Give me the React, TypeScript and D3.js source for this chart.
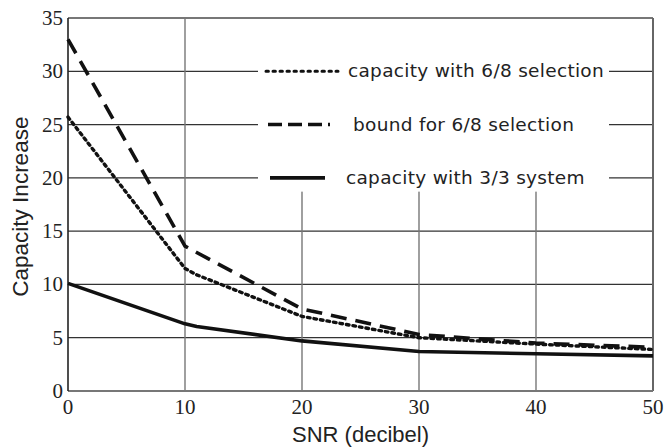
import React, { useEffect, useRef } from "react";
import * as d3 from "d3";

// SNR values (decibel)
const snr = [0, 10, 11, 20, 30, 40, 50];
// capacity with 6/8 selection (dotted)
const selCapacity = [25.7, 11.5, 10.9, 7.0, 5.0, 4.4, 3.9];
// bound for 6/8 selection (dashed)
const selBound = [33.0, 13.6, 13.0, 7.7, 5.3, 4.5, 4.1];
// capacity with 3/3 system (solid)
const sysCapacity = [10.1, 6.3, 6.05, 4.7, 3.7, 3.5, 3.3];

const xTicks = [0, 10, 20, 30, 40, 50];
const yTicks = [0, 5, 10, 15, 20, 25, 30, 35];

const legendLabels = ["capacity with 6/8 selection", "bound for 6/8 selection", "capacity with 3/3 system"];
const legendRows = [30, 25, 20];

const App = () => {
  const svgRef = useRef<SVGSVGElement>(null);

  useEffect(() => {
    const width = 664;
    const height = 448;
    const margin = { top: 18, right: 11, bottom: 57, left: 68 };

    const svg = d3.select(svgRef.current);
    svg.selectAll("*").remove();

    const x = d3.scaleLinear().domain([0, 50]).range([margin.left, width - margin.right]);
    const y = d3.scaleLinear().domain([0, 35]).range([height - margin.bottom, margin.top]);

    svg.append("rect").attr("width", width).attr("height", height).attr("fill", "#fff");

    // grid
    svg
      .append("g")
      .selectAll("line")
      .data(yTicks.slice(1, -1))
      .join("line")
      .attr("x1", x(0))
      .attr("x2", x(50))
      .attr("y1", (d) => y(d))
      .attr("y2", (d) => y(d))
      .attr("stroke", "#333")
      .attr("stroke-width", 1.2);

    svg
      .append("g")
      .selectAll("line")
      .data(xTicks.slice(1, -1))
      .join("line")
      .attr("x1", (d) => x(d))
      .attr("x2", (d) => x(d))
      .attr("y1", y(0))
      .attr("y2", y(35))
      .attr("stroke", "#777")
      .attr("stroke-width", 1.4);

    // legend cut-out
    const legX0 = 258;
    const legX1 = 609;
    svg
      .append("rect")
      .attr("x", legX0)
      .attr("y", y(35) + 1)
      .attr("width", legX1 - legX0)
      .attr("height", y(18.8) - y(35))
      .attr("fill", "#fff");

    // frame
    const frame = [
      { x1: 0, y1: 35, x2: 50, y2: 35, c: "#777", w: 2 },
      { x1: 50, y1: 35, x2: 50, y2: 0, c: "#666", w: 2 },
      { x1: 0, y1: 0, x2: 50, y2: 0, c: "#777", w: 2 },
      { x1: 0, y1: 35, x2: 0, y2: 0, c: "#222", w: 1.6 },
    ];
    frame.forEach((f) => {
      svg
        .append("line")
        .attr("x1", x(f.x1))
        .attr("x2", x(f.x2))
        .attr("y1", y(f.y1))
        .attr("y2", y(f.y2))
        .attr("stroke", f.c)
        .attr("stroke-width", f.w);
    });

    // tick labels
    const serif = '"Liberation Serif", "Times New Roman", Times, "Noto Serif", "DejaVu Serif", serif';
    const sans = '"Liberation Sans", Arial, sans-serif';
    svg
      .append("g")
      .selectAll("text")
      .data(yTicks)
      .join("text")
      .attr("x", x(0) - 5)
      .attr("y", (d) => y(d) + 7)
      .attr("text-anchor", "end")
      .style("font-family", serif)
      .style("font-size", "21px")
      .attr("fill", "#222")
      .text((d) => d);

    svg
      .append("g")
      .selectAll("text")
      .data(xTicks)
      .join("text")
      .attr("x", (d) => x(d))
      .attr("y", y(0) + 23)
      .attr("text-anchor", "middle")
      .style("font-family", serif)
      .style("font-size", "21px")
      .attr("fill", "#222")
      .text((d) => d);

    // axis titles
    svg
      .append("text")
      .attr("x", (x(0) + x(50)) / 2)
      .attr("y", height - 6)
      .attr("text-anchor", "middle")
      .style("font-family", sans)
      .style("font-size", "22px")
      .attr("fill", "#222")
      .text("SNR (decibel)");

    svg
      .append("text")
      .attr("transform", `translate(28, ${y(17.3)}) rotate(-90)`)
      .attr("text-anchor", "middle")
      .style("font-family", sans)
      .style("font-size", "22.5px")
      .attr("fill", "#222")
      .text("Capacity Increase");

    // curves
    const line = d3
      .line<number>()
      .x((_, i) => x(snr[i]))
      .y((d) => y(d))
      .curve(d3.curveLinear);

    const series = [
      { values: selBound, dash: "16 9", width: 3.6, cap: "butt" },
      { values: selCapacity, dash: "2.6 4", width: 3.4, cap: "round" },
      { values: sysCapacity, dash: null, width: 3.6, cap: "butt" },
    ];

    series.forEach((s) => {
      svg
        .append("path")
        .datum(s.values)
        .attr("d", line)
        .attr("fill", "none")
        .attr("stroke", "#111")
        .attr("stroke-width", s.width)
        .attr("stroke-linecap", s.cap)
        .attr("stroke-linejoin", "round")
        .attr("stroke-dasharray", s.dash);
    });

    // legend
    const legendStyle = [
      { dash: "2.4 4.6", width: 3, cap: "round", x0: 266, x1: 338, tx: 348 },
      { dash: "14 6", width: 3.6, cap: "butt", x0: 268, x1: 330, tx: 353 },
      { dash: null, width: 3.6, cap: "butt", x0: 270, x1: 325, tx: 346 },
    ];
    const leg = svg.append("g");
    legendLabels.forEach((label, i) => {
      const st = legendStyle[i];
      const ly = y(legendRows[i]);
      leg
        .append("line")
        .attr("x1", st.x0)
        .attr("x2", st.x1)
        .attr("y1", ly)
        .attr("y2", ly)
        .attr("stroke", "#111")
        .attr("stroke-width", st.width)
        .attr("stroke-linecap", st.cap)
        .attr("stroke-dasharray", st.dash);
      leg
        .append("text")
        .attr("x", st.tx)
        .attr("y", ly + 6)
        .style("font-family", '"DejaVu Sans", sans-serif')
        .style("font-size", "18.5px")
        .attr("letter-spacing", 0.3)
        .attr("fill", "#222")
        .text(label);
    });
  }, []);

  return (
    <svg
      ref={svgRef}
      width={664}
      height={448}
      style={{ position: "fixed", left: 0, top: 0, display: "block" }}
    ></svg>
  );
};

export default App;
